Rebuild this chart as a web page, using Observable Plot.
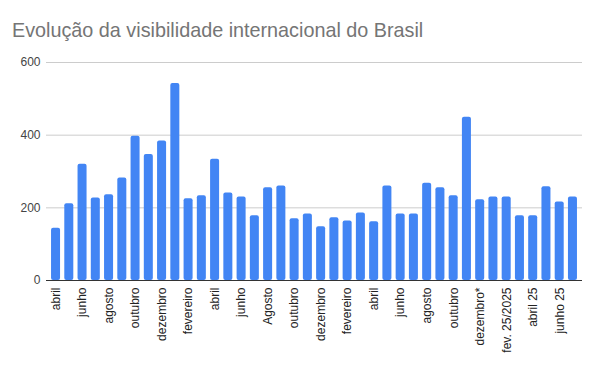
<!DOCTYPE html>
<html>
<head>
<meta charset="utf-8">
<script src="https://cdn.jsdelivr.net/npm/d3@7"></script>
<script src="https://cdn.jsdelivr.net/npm/@observablehq/plot@0.6"></script>
<style>
  body { margin: 0; background: #fff; font-family: "Liberation Sans", Arial, sans-serif; }
  #wrap { position: relative; width: 600px; height: 371px; }
  #title { height: 50px; box-sizing: border-box; padding: 18px 0 0 12px; font-size: 19.8px; line-height: 24px; color: #757575; white-space: nowrap; }
</style>
</head>
<body>
<div id="wrap">
  <div id="title">Evolução da visibilidade internacional do Brasil</div>
  <div id="chart"></div>
</div>
<script>
const title = "Evolução da visibilidade internacional do Brasil";
const tickLabels = [
  "abril", "", "junho", "", "agosto", "", "outubro", "", "dezembro", "",
  "fevereiro", "", "abril", "", "junho", "", "Agosto", "", "outubro", "",
  "dezembro", "", "fevereiro", "", "abril", "", "junho", "", "agosto", "",
  "outubro", "", "dezembro*", "", "fev. 25/2025", "", "abril 25", "", "junho 25", ""
];
const values = [
  144, 211, 320, 227, 236, 282, 397, 347, 384, 542,
  225, 233, 334, 241, 230, 178, 255, 260, 170, 183,
  148, 173, 164, 186, 162, 260, 183, 183, 268, 255,
  233, 449, 222, 230, 230, 178, 178, 258, 216, 230
];
const yTicks = [0, 200, 400, 600];

const idx = d3.range(values.length);
const data = idx.map(i => ({i, v: values[i]}));

const chart = Plot.plot({
  width: 600,
  height: 321,
  marginLeft: 46,
  marginRight: 18,
  marginTop: 12,
  marginBottom: 91,
  style: {fontFamily: "'Liberation Sans', Arial, sans-serif", fontSize: "12px", background: "#fff"},
  x: {type: "band", domain: idx, paddingInner: 0.32, paddingOuter: 0.38, round: false},
  y: {domain: [0, 600]},
  marks: [
    Plot.ruleY(yTicks.filter(d => d > 0), {stroke: "#cccccc", strokeWidth: 1}),
    Plot.barY(data, {x: "i", y: "v", fill: "#4285f4", rx: 2}),
    Plot.ruleY([0], {stroke: "#333333", strokeWidth: 1}),
    Plot.axisX({ticks: idx.filter(i => tickLabels[i] !== ""), tickFormat: i => tickLabels[i], tickSize: 0, tickPadding: 7, tickRotate: -90, fill: "#222", fontSize: 12, label: null}),
    Plot.axisY({ticks: yTicks, tickSize: 0, tickPadding: 6, fill: "#444", fontSize: 12, label: null})
  ]
});
document.getElementById("chart").appendChild(chart);
</script>
</body>
</html>
